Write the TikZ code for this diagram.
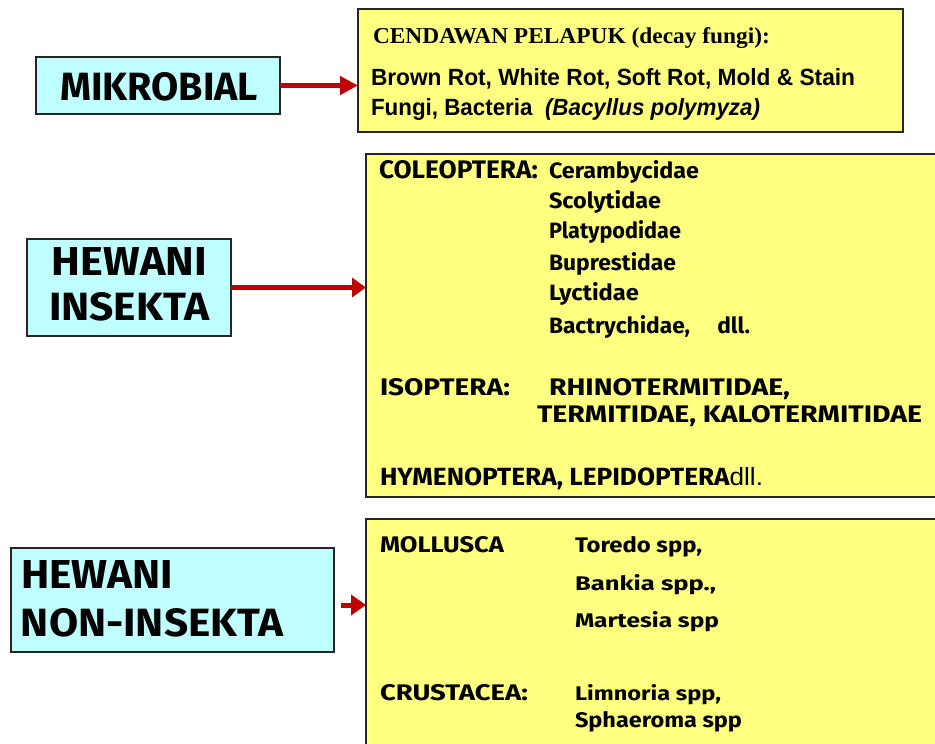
\documentclass[tikz,border=0pt]{standalone}
\usepackage{fontspec}
\usepackage{graphicx}
\usetikzlibrary{arrows.meta}
\newfontfamily\fa{Fira Sans}
\newfontfamily\lsans{Liberation Sans}
\newfontfamily\lserif{Liberation Serif}
\newcommand{\fx}[3]{\resizebox{#1pt}{#2pt}{#3}}
\definecolor{cyanfill}{RGB}{192,255,255}
\definecolor{yellowfill}{RGB}{255,255,128}
\definecolor{arrowred}{RGB}{192,0,0}
\tikzset{
  catbox/.style={draw=black!85, line width=1.5pt, fill=cyanfill, anchor=north west, inner sep=0pt, outer sep=0pt},
  infobox/.style={draw=black!85, line width=1.5pt, fill=yellowfill, anchor=north west, inner sep=0pt, outer sep=0pt},
  txt/.style={anchor=base west, inner sep=0pt, outer sep=0pt, font=\fa\bfseries},
  arr/.style={draw=arrowred, line width=4.5pt, -{Triangle[length=18pt,width=18pt]}},
}
\begin{document}
\begin{tikzpicture}[x=1pt,y=-1pt]
\useasboundingbox (0,0) rectangle (935,744);
\clip (0,0) rectangle (935,744);
% boxes
\node[catbox, minimum width=244pt, minimum height=57pt] (mik) at (36,57) {};
\node[catbox, minimum width=204pt, minimum height=97pt] (ins) at (27,239) {};
\node[catbox, minimum width=323pt, minimum height=104pt] (non) at (11,548) {};
\node[infobox, minimum width=545pt, minimum height=123pt] (y1) at (358,9) {};
\node[infobox, minimum width=580pt, minimum height=343pt] (y2) at (366,154) {};
\node[infobox, minimum width=580pt, minimum height=240pt] (y3) at (366,519) {};
% arrows
\coordinate (n3) at ([yshift=-5pt]non.east);
\draw[arr] (mik.east) -- (y1.west |- mik.east);
\draw[arr, -{Triangle[length=14pt,width=19pt]}] (ins.east) -- (y2.west |- ins.east);
\draw[arr, line width=5pt, shorten <=7pt, -{Triangle[length=15pt,width=20pt]}] (n3) -- (y3.west |- n3);
% titles
\node[txt] (tmik) at (60,100) {\fx{198}{28}{MIKROBIAL}};
\node[txt] (tins1) at (52,275) {\fx{155}{28}{HEWANI}};
\node[txt] (tins2) at (49,320) {\fx{160}{28}{INSEKTA}};
\node[txt] (tnon1) at (21,588) {\fx{152}{28}{HEWANI}};
\node[txt] (tnon2) at (21,636) {\fx{262}{28}{NON-INSEKTA}};
% box 1 text
\node[txt, font=\lserif\bfseries] (a1) at (373,43) {\fx{397}{16}{CENDAWAN PELAPUK (decay fungi):}};
\node[txt, font=\lsans\bfseries] (a2) at (371,85) {\fx{484}{17}{Brown Rot, White Rot, Soft Rot, Mold \& Stain}};
\node[txt, font=\lsans\bfseries] (a3) at (371,115) {\fx{389}{17}{Fungi, Bacteria \ \textit{(Bacyllus polymyza)}}};
% box 2 text
\node[txt] (b1) at (379,178) {\fx{159}{18}{COLEOPTERA:}};
\node[txt] (b2) at (549,178) {\fx{150}{18}{Cerambycidae}};
\node[txt] (b3) at (549,208) {\fx{112}{18}{Scolytidae}};
\node[txt] (b4) at (549,238) {\fx{132}{18}{Platypodidae}};
\node[txt] (b5) at (549,270) {\fx{127}{18}{Buprestidae}};
\node[txt] (b6) at (549,300) {\fx{90}{18}{Lyctidae}};
\node[txt] (b7) at (549,333) {\fx{201}{18}{Bactrychidae,\hspace{1.2em}dll.}};
\node[txt] (b8) at (380,395) {\fx{130}{17}{ISOPTERA:}};
\node[txt] (b9) at (549,395) {\fx{241}{17}{RHINOTERMITIDAE,}};
\node[txt] (b10) at (537,422) {\fx{385}{17}{TERMITIDAE, KALOTERMITIDAE}};
\node[txt] (b11) at (380,485) {\fx{383}{18}{HYMENOPTERA, LEPIDOPTERA{\lsans\mdseries dll.}}};
% box 3 text
\node[txt] (c1) at (380,552) {\fx{124}{16}{MOLLUSCA}};
\node[txt] (c2) at (575,552) {\fx{127}{16}{Toredo spp,}};
\node[txt] (c3) at (575,590) {\fx{141}{16}{Bankia spp.,}};
\node[txt] (c4) at (575,627) {\fx{144}{16}{Martesia spp}};
\node[txt] (c5) at (380,700) {\fx{148}{16}{CRUSTACEA:}};
\node[txt] (c6) at (575,700) {\fx{146}{16}{Limnoria spp,}};
\node[txt] (c7) at (575,727) {\fx{167}{16}{Sphaeroma spp}};
\end{tikzpicture}
\end{document}
